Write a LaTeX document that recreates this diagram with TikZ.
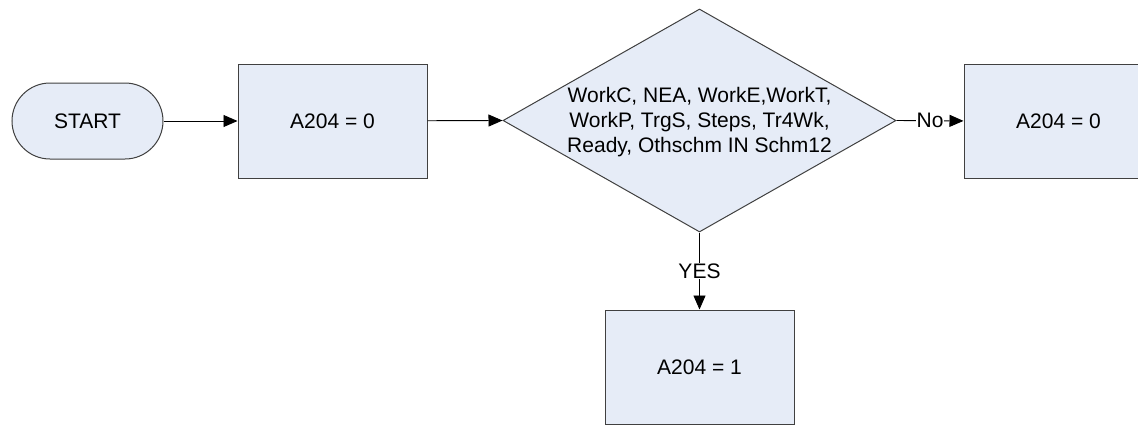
\documentclass[tikz,border=0pt]{standalone}
\usepackage{fontspec}
\setmainfont{Liberation Sans}
\usetikzlibrary{shapes.geometric,arrows.meta}
\definecolor{boxfill}{RGB}{230,236,247}
\definecolor{boxline}{RGB}{64,64,64}
\tikzset{
  base/.style={draw=boxline, fill=boxfill, line width=1pt, inner sep=0pt,
    font=\fontsize{21}{25}\selectfont, align=center},
  procbox/.style={base, rectangle, minimum width=189pt, minimum height=114pt},
  termbox/.style={base, rectangle, rounded corners=38pt, minimum width=151pt, minimum height=76pt},
  decbox/.style={base, diamond, minimum width=393pt, minimum height=223pt, aspect=1.76},
  conn/.style={line width=0.9pt, black, -{Triangle[length=14pt,width=12pt]}},
  lbl/.style={fill=white, inner sep=1pt, font=\fontsize{21}{25}\selectfont}
}
\begin{document}
\begin{tikzpicture}[x=1pt,y=-1pt]
\clip (0,0) rectangle (1138,424);
\useasboundingbox (0,0) rectangle (1138,424);
\node[termbox] (start) at (87.5,121) {START};
\node[procbox] (b1) at (332.5,121) {A204 = 0};
\node[base, diamond, shape aspect=1.76, minimum width=393pt, minimum height=223pt, inner sep=0pt] (d) at (699.5,120.5) {};
\node[font=\fontsize{21}{25}\selectfont, align=center] (dtext) at (699.5,122) {WorkC, NEA, WorkE,WorkT,\\WorkP, TrgS, Steps, Tr4Wk,\\Ready, Othschm IN Schm12};
\node[procbox] (b3) at (1058.5,121.5) {A204 = 0};
\node[procbox] (b4) at (699.5,367) {A204 = 1};
\draw[conn] (start) -- (b1);
\draw[conn] (b1) -- (d.west);
\draw[conn] (d.east) -- node[lbl] {No} (b3);
\draw[conn] (d.south) -- node[lbl, pos=0.5] {YES} (b4);
\end{tikzpicture}
\end{document}
